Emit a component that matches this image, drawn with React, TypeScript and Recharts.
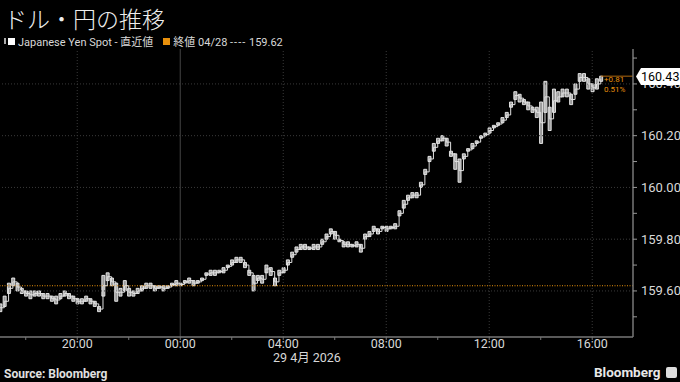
import { ComposedChart, Bar, Line, XAxis, YAxis, ReferenceLine } from 'recharts';

// 10-minute bars starting 17:00 (28 Apr)
const BAR_MINUTES = 10;

const lows = [
  159.52, 159.54, 159.59, 159.62, 159.60, 159.59, 159.58, 159.57, 159.58, 159.58,
  159.57, 159.57, 159.56, 159.55, 159.57, 159.58, 159.57, 159.56, 159.55, 159.55,
  159.56, 159.55, 159.54, 159.52, 159.58, 159.64, 159.62, 159.56, 159.58, 159.60,
  159.58, 159.58, 159.59, 159.60, 159.61, 159.61, 159.60, 159.61, 159.60, 159.61,
  159.62, 159.62, 159.62, 159.63, 159.63, 159.62, 159.63, 159.64, 159.66, 159.66,
  159.66, 159.67, 159.67, 159.69, 159.70, 159.71, 159.71, 159.69, 159.66, 159.60,
  159.64, 159.63, 159.67, 159.66, 159.62, 159.66, 159.67, 159.70, 159.73, 159.75,
  159.76, 159.76, 159.76, 159.76, 159.76, 159.78, 159.80, 159.82, 159.80, 159.79,
  159.77, 159.77, 159.77, 159.77, 159.75, 159.80, 159.81, 159.83, 159.82, 159.84,
  159.83, 159.84, 159.84, 159.89, 159.92, 159.95, 159.96, 159.96, 160.00, 160.05,
  160.10, 160.14, 160.17, 160.18, 160.16, 160.12, 160.07, 160.02, 160.11, 160.14,
  160.15, 160.17, 160.19, 160.20, 160.21, 160.23, 160.24, 160.25, 160.27, 160.31,
  160.34, 160.33, 160.32, 160.30, 160.29, 160.27, 160.17, 160.29, 160.22, 160.29,
  160.33, 160.35, 160.35, 160.32, 160.36, 160.41, 160.41, 160.38, 160.37, 160.38,
  160.41,
];

const highs = [
  159.55, 159.58, 159.63, 159.65, 159.63, 159.61, 159.60, 159.60, 159.60, 159.60,
  159.59, 159.59, 159.58, 159.58, 159.59, 159.60, 159.59, 159.58, 159.57, 159.57,
  159.58, 159.57, 159.56, 159.54, 159.66, 159.67, 159.65, 159.63, 159.61, 159.64,
  159.61, 159.60, 159.61, 159.62, 159.63, 159.63, 159.62, 159.62, 159.62, 159.62,
  159.63, 159.64, 159.63, 159.64, 159.65, 159.64, 159.64, 159.65, 159.67, 159.68,
  159.68, 159.68, 159.69, 159.70, 159.72, 159.73, 159.73, 159.71, 159.68, 159.66,
  159.66, 159.66, 159.70, 159.69, 159.65, 159.68, 159.69, 159.72, 159.75, 159.77,
  159.78, 159.78, 159.77, 159.78, 159.78, 159.80, 159.82, 159.84, 159.83, 159.80,
  159.79, 159.79, 159.78, 159.79, 159.78, 159.82, 159.83, 159.85, 159.84, 159.85,
  159.85, 159.85, 159.86, 159.91, 159.95, 159.97, 159.98, 159.98, 160.02, 160.07,
  160.12, 160.17, 160.19, 160.20, 160.19, 160.14, 160.13, 160.11, 160.13, 160.15,
  160.17, 160.18, 160.20, 160.21, 160.23, 160.24, 160.25, 160.27, 160.29, 160.33,
  160.37, 160.36, 160.34, 160.33, 160.31, 160.31, 160.33, 160.41, 160.31, 160.38,
  160.37, 160.38, 160.38, 160.36, 160.40, 160.44, 160.44, 160.42, 160.40, 160.42,
  160.43,
];

const yTicks = [159.5, 159.6, 159.7, 159.8, 159.9, 160.0, 160.1, 160.2, 160.3, 160.4, 160.5];
const yLabels = [159.6, 159.8, 160.0, 160.2, 160.4];

const xTicks = [60, 180, 300, 420, 540, 660, 780, 900, 1020, 1140, 1260, 1380];
const xLabels: Record<number, string> = {
  180: '20:00',
  420: '00:00',
  660: '04:00',
  900: '08:00',
  1140: '12:00',
  1380: '16:00',
};

const prevClose = 159.62;
const lastPrice = 160.43;
const change = '+0.81';
const changePct = '0.51%';

const FONT = 'Roboto, "Noto Sans CJK JP", sans-serif';
const ORANGE = '#e8900c';

const data = lows.map((lo, i) => ({
  t: i * BAR_MINUTES,
  range: [lo, highs[i]],
  mid: (lo + highs[i]) / 2,
}));

const lastT = (lows.length - 1) * BAR_MINUTES;

function YTick({ x, y, payload }: any) {
  const v = payload.value as number;
  if (!yLabels.some((l) => Math.abs(l - v) < 1e-6)) return null;
  return (
    <text x={x + 2} y={y} dy={4.5} fill="#d8d8d8" fontSize={13} fontFamily={FONT}>
      {v.toFixed(2)}
    </text>
  );
}

function XTick({ x, y, payload }: any) {
  const label = xLabels[payload.value];
  if (!label) return null;
  return (
    <text x={x} y={y} dy={6} textAnchor="middle" fill="#d8d8d8" fontSize={12.5} fontFamily={FONT}>
      {label}
    </text>
  );
}

export default function App() {
  return (
    <div
      style={{
        position: 'absolute',
        left: 0,
        top: 0,
        width: 680,
        height: 382,
        background: '#000',
        overflow: 'hidden',
        fontFamily: FONT,
      }}
    >
      <div
        style={{
          position: 'absolute',
          left: 4,
          top: 1,
          fontSize: 23,
          fontWeight: 300,
          color: '#eee',
          fontFamily: '"Noto Sans CJK JP", sans-serif',
        }}
      >
        ドル・円の推移
      </div>
      <div
        style={{
          position: 'absolute',
          left: 4,
          top: 33,
          fontSize: 11,
          color: '#d8d8d8',
          display: 'flex',
          alignItems: 'center',
          whiteSpace: 'nowrap',
        }}
      >
        <span style={{ width: 2, height: 6, background: '#aaa', marginRight: 2 }} />
        <span style={{ width: 7, height: 7, background: '#fff', marginRight: 3 }} />
        <span>Japanese Yen Spot - 直近値</span>
        <span style={{ width: 7, height: 7, background: ORANGE, marginLeft: 10, marginRight: 3 }} />
        <span>
          終値 04/28 <span style={{ letterSpacing: 1 }}>----</span> 159.62
        </span>
      </div>

      <ComposedChart
        width={680}
        height={382}
        data={data}
        margin={{ top: 49, right: 0, left: 0, bottom: 0 }}
        style={{ position: 'absolute', left: 0, top: 0 }}
      >
        <XAxis
          dataKey="t"
          type="number"
          domain={[0, 1475]}
          allowDataOverflow
          ticks={xTicks}
          tick={<XTick />}
          tickLine={{ stroke: '#777' }}
          tickSize={3}
          axisLine={{ stroke: '#777', strokeWidth: 1.5 }}
          height={45}
        />
        <YAxis
          orientation="right"
          type="number"
          domain={[159.422, 160.535]}
          allowDataOverflow
          ticks={yTicks}
          tick={<YTick />}
          tickLine={{ stroke: '#999' }}
          tickSize={4}
          axisLine={{ stroke: '#777', strokeWidth: 1.5 }}
          width={47}
        />
        {yLabels.map((v) => (
          <ReferenceLine key={`h${v}`} y={v} stroke="#3a3a3a" strokeDasharray="1 2" />
        ))}
        {Object.keys(xLabels).map((k) => (
          <ReferenceLine
            key={`v${k}`}
            x={Number(k)}
            stroke={k === '420' ? '#444' : '#3a3a3a'}
            strokeDasharray={k === '420' ? undefined : '1 2'}
          />
        ))}
        <ReferenceLine y={prevClose} stroke={ORANGE} strokeDasharray="1 1.5" />
        <ReferenceLine
          segment={[
            { x: lastT, y: lastPrice },
            { x: 1475, y: lastPrice },
          ]}
          stroke="#b06a10"
        />
        <Line
          dataKey="mid"
          type="stepAfter"
          stroke="#e0e0e0"
          strokeWidth={1}
          dot={false}
          isAnimationActive={false}
        />
        <Bar
          dataKey="range"
          barSize={3}
          fill="#9a9a9a"
          stroke="#f2f2f2"
          strokeWidth={0.9}
          isAnimationActive={false}
        />
      </ComposedChart>

      <div style={{ position: 'absolute', left: 604, top: 75, fontSize: 8, color: ORANGE, lineHeight: '10px' }}>
        <div>{change}</div>
        <div>{changePct}</div>
      </div>
      <div
        style={{
          position: 'absolute',
          left: 636,
          top: 68,
          width: 44,
          height: 17,
          background: '#fff',
          color: '#000',
          fontSize: 12.5,
          lineHeight: '17px',
          paddingLeft: 5,
          boxSizing: 'border-box',
          whiteSpace: 'nowrap',
          clipPath: 'polygon(0 50%, 5px 0, 100% 0, 100% 100%, 5px 100%)',
        }}
      >
        {lastPrice.toFixed(2)}
      </div>

      <div
        style={{
          position: 'absolute',
          left: 273,
          top: 352,
          fontSize: 12.5,
          lineHeight: '12px',
          color: '#d8d8d8',
          whiteSpace: 'nowrap',
        }}
      >
        29 4月 2026
      </div>
      <div
        style={{ position: 'absolute', left: 4, top: 367, fontSize: 12, fontWeight: 700, color: '#e0e0e0' }}
      >
        Source: Bloomberg
      </div>
      <div
        style={{
          position: 'absolute',
          left: 594,
          top: 364,
          fontSize: 13.5,
          fontWeight: 700,
          color: '#e8e8e8',
          display: 'flex',
          alignItems: 'center',
        }}
      >
        Bloomberg
        <span
          style={{
            display: 'inline-block',
            width: 11,
            height: 11,
            background: '#ddd',
            borderRadius: 2,
            marginLeft: 5,
          }}
        />
      </div>
    </div>
  );
}
